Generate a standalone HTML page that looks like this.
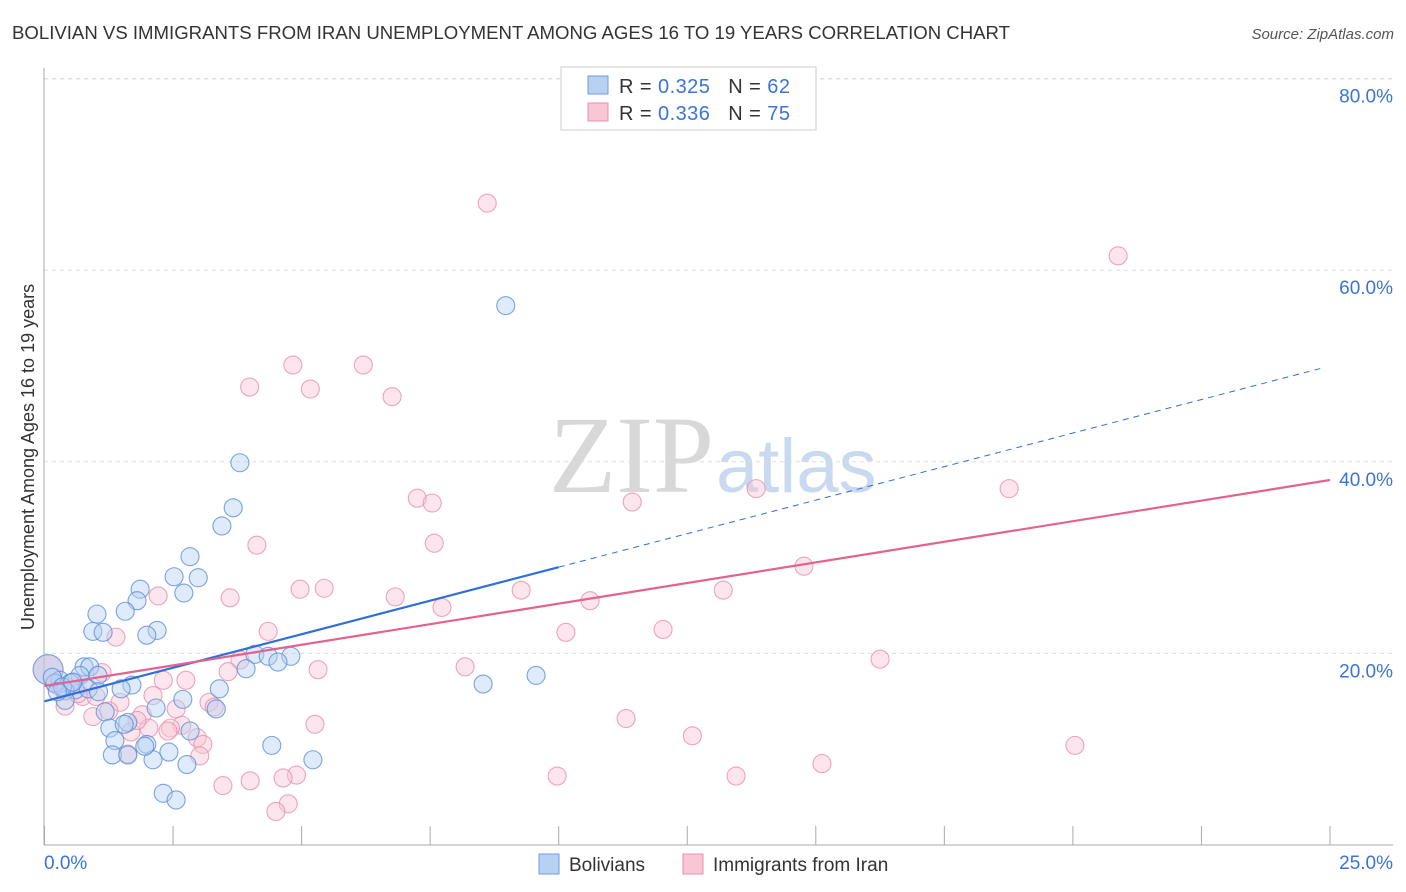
<!DOCTYPE html>
<html><head><meta charset="utf-8">
<style>
body{margin:0;background:#fff;font-family:"Liberation Sans",sans-serif;}
#wrap{position:relative;width:1406px;height:892px;overflow:hidden;}
</style></head>
<body>
<div id="wrap">
<svg id="svg" width="1406" height="892" xmlns="http://www.w3.org/2000/svg">
<text x="12" y="39" font-size="18" fill="#333" textLength="998" lengthAdjust="spacingAndGlyphs">BOLIVIAN VS IMMIGRANTS FROM IRAN UNEMPLOYMENT AMONG AGES 16 TO 19 YEARS CORRELATION CHART</text>
<text x="1394" y="39" font-size="15" fill="#555" text-anchor="end" font-style="italic">Source: ZipAtlas.com</text>
<text x="714" y="492" font-size="110" fill="#d8d8d8" text-anchor="end" font-family="Liberation Serif,serif">ZIP</text>
<text x="716" y="492" font-size="76" fill="#c9d9ef">atlas</text>
<text transform="translate(34,457) rotate(-90)" font-size="18" fill="#333" text-anchor="middle">Unemployment Among Ages 16 to 19 years</text>
<g id="grid"></g><g id="marks"></g>
<g>
<rect x="561" y="67" width="255" height="63" fill="#fff" stroke="#ccc"/>
<rect x="588" y="76" width="20" height="18" fill="#b8d1f3" stroke="#6c9ce0"/>
<rect x="588" y="103" width="20" height="18" fill="#f9c6d5" stroke="#e890ad"/>
<text x="619" y="93" font-size="20" fill="#333" textLength="171" lengthAdjust="spacing">R = <tspan fill="#3a74d6">0.325</tspan>&#160;&#160;&#160;N = <tspan fill="#3a74d6">62</tspan></text>
<text x="619" y="120" font-size="20" fill="#333" textLength="171" lengthAdjust="spacing">R = <tspan fill="#3a74d6">0.336</tspan>&#160;&#160;&#160;N = <tspan fill="#3a74d6">75</tspan></text>
</g>
<g>
<rect x="539" y="854" width="20" height="20" fill="#b8d1f3" stroke="#6c9ce0"/>
<text x="569" y="871" font-size="19" fill="#333">Bolivians</text>
<rect x="683" y="854" width="20" height="20" fill="#f9c6d5" stroke="#e890ad"/>
<text x="713" y="871" font-size="19" fill="#333">Immigrants from Iran</text>
</g>
</svg>
</div>
<script>
const xTicks=[0,2.5,5,7.5,10,12.5,15,17.5,20,22.5,25];
const yTicks=[20,40,60,80];
const yTickLabels=["20.0%","40.0%","60.0%","80.0%"];
const blueX=[8.97,3.80,3.67,3.45,2.83,2.52,2.99,1.86,2.71,1.80,1.02,1.57,0.94,1.14,2.19,1.99,4.09,4.35,4.79,4.54,3.92,9.56,8.53,0.77,0.88,1.04,0.69,0.30,0.50,0.60,0.40,0.85,0.20,1.70,1.49,3.40,2.69,0.40,2.17,3.34,1.18,1.62,1.27,2.83,1.37,1.99,4.42,1.32,1.62,2.42,2.11,2.77,5.22,2.31,2.56,0.15,0.35,0.55,1.05,1.55,1.95,0.25];
const blueY=[56.3,39.9,35.2,33.3,30.1,28.0,27.9,26.7,26.3,25.5,24.1,24.4,22.3,22.2,22.4,21.9,19.9,19.7,19.7,19.1,18.4,17.7,16.8,18.6,18.6,17.7,17.7,17.2,16.9,16.2,16.1,16.3,16.9,16.7,16.3,16.3,15.2,15.1,14.3,14.2,13.9,12.8,12.2,11.9,10.9,10.5,10.4,9.4,9.4,9.7,8.9,8.4,8.9,5.4,4.7,17.5,16.5,17.0,16.0,12.6,10.3,16.0];
const pinkX=[8.61,20.88,4.83,6.20,3.99,5.17,6.76,7.25,7.54,11.43,13.84,18.76,7.58,4.13,4.97,5.44,9.27,13.20,14.77,3.61,6.82,2.21,10.61,7.73,4.35,10.14,12.03,1.39,16.25,3.80,8.18,5.32,1.12,3.57,2.31,2.75,0.77,2.11,0.74,1.47,3.20,3.30,0.40,0.94,1.90,2.56,2.67,2.45,5.26,11.31,1.68,2.03,2.97,3.08,12.60,20.04,1.62,3.02,15.12,9.97,13.45,4.90,4.64,4.00,3.47,4.74,4.50,0.30,0.55,1.00,1.25,0.20,0.65,1.80,2.40];
const pinkY=[67.0,61.5,50.1,50.1,47.8,47.6,46.8,36.2,35.7,35.8,37.2,37.2,31.5,31.3,26.7,26.8,26.6,26.6,29.1,25.8,25.9,26.0,25.5,24.8,22.3,22.2,22.5,21.7,19.4,19.3,18.6,18.3,18.0,18.1,17.2,17.2,16.7,15.6,15.5,14.9,14.9,14.4,14.5,13.4,13.6,14.2,12.5,12.2,12.6,13.2,11.8,12.2,11.2,10.5,11.4,10.4,9.5,9.3,8.5,7.2,7.2,7.3,7.0,6.7,6.2,4.3,3.5,16.5,17.0,15.5,14.0,16.8,15.8,13.0,11.9];
const blueBigX=[0.07],blueBigY=[18.3],pinkBigX=[0.07],pinkBigY=[18.3];
const blueTrend=[15.0,1.4],pinkTrend=[16.6,0.86];

const NS="http://www.w3.org/2000/svg";
const sx=v=>44.5+v/25*1285.5, sy=v=>845-v*9.58;
function mk(tag,at,parent){const e=document.createElementNS(NS,tag);for(const k in at)e.setAttribute(k,at[k]);parent.appendChild(e);return e;}
const grid=document.getElementById('grid'),marks=document.getElementById('marks');
let e;
e=mk('line',{x1:44,y1:79,x2:1393,y2:79,stroke:'#ddd','stroke-dasharray':'4,4'},grid);


yTicks.forEach((t,i)=>{
 e=mk('line',{x1:44,y1:sy(t),x2:1393,y2:sy(t),stroke:'#ddd','stroke-dasharray':'4,4'},grid);
 
 
 e=mk('text',{x:1393,y:sy(t)+24,'font-size':19,fill:'#3a74d6','text-anchor':'end'},grid);
 e.textContent=yTickLabels[i];
 
 
});
e=mk('line',{x1:44,y1:68,x2:44,y2:845,stroke:'#aaa'},grid);


e=mk('line',{x1:44,y1:845,x2:1393,y2:845,stroke:'#aaa'},grid);


xTicks.forEach(t=>{
 e=mk('line',{x1:sx(t),y1:826,x2:sx(t),y2:845,stroke:'#aaa'},grid);
 
 
});
e=mk('text',{x:44,y:869,'font-size':19,fill:'#3a74d6'},grid);e.textContent='0.0%';


e=mk('text',{x:1393,y:869,'font-size':19,fill:'#3a74d6','text-anchor':'end'},grid);e.textContent='25.0%';



function dots(X,Y,r,fill,stroke,name){
 X.forEach((x,i)=>{
  e=mk('circle',{cx:sx(x),cy:sy(Y[i]),r:r,fill:fill,'fill-opacity':0.45,stroke:stroke,'stroke-opacity':0.8,'stroke-width':1.1},marks);
  
  
 });
}
dots(pinkBigX,pinkBigY,15,'#f4b6c9','#e890ad','point-iran-large');
dots(blueBigX,blueBigY,15,'#a9c7f0','#6c9ce0','point-bolivian-large');
dots(pinkX,pinkY,9,'#f9c6d5','#e890ad','point-iran');
dots(blueX,blueY,9,'#b8d1f3','#5a8fdd','point-bolivian');

e=mk('line',{x1:sx(0),y1:sy(blueTrend[0]),x2:sx(10),y2:sy(blueTrend[0]+blueTrend[1]*10),stroke:'#2f6fd8','stroke-width':2.2},marks);


e=mk('line',{x1:sx(10),y1:sy(blueTrend[0]+blueTrend[1]*10),x2:sx(24.9),y2:sy(blueTrend[0]+blueTrend[1]*24.9),stroke:'#2f6fd8','stroke-width':1,'stroke-dasharray':'6,5'},marks);


e=mk('line',{x1:sx(0),y1:sy(pinkTrend[0]),x2:sx(25),y2:sy(pinkTrend[0]+pinkTrend[1]*25),stroke:'#e4628f','stroke-width':2.2},marks);


</script>
</body></html>
